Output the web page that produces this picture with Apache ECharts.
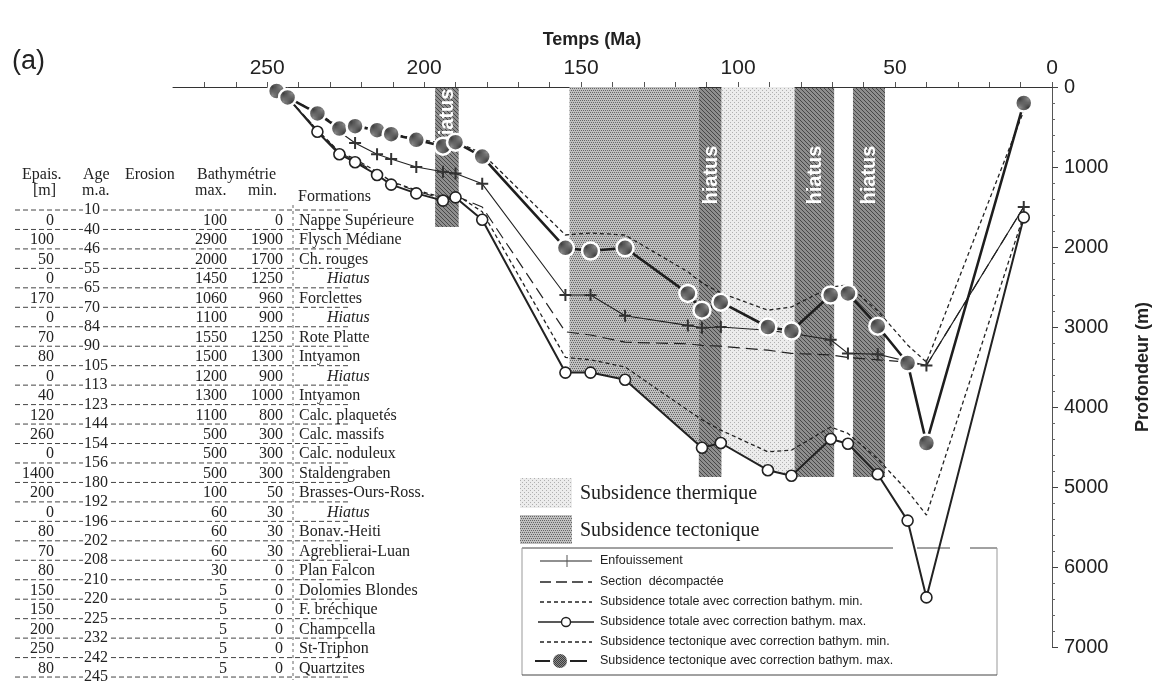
<!DOCTYPE html>
<html><head><meta charset="utf-8">
<script src="https://cdn.jsdelivr.net/npm/echarts/dist/echarts.min.js"></script>
<style>html,body{margin:0;padding:0;background:#fff}#c{width:1160px;height:686px}</style>
</head><body><div id="c"></div>
<script>
// ---------- DATA ----------
// ages (Ma) of the plotted points, as placed on the figure
const ages = [247, 243.5, 234, 227, 222, 215, 210.5, 202.5, 194, 190, 181.5, 155, 147, 136, 116, 111.5, 105.5, 90.5, 83, 70.5, 65, 55.5, 46, 40, 9];
const enfouissement      = [null, null, null, 560, 700, 840, 900, 1000, 1060, 1080, 1210, 2600, 2600, 2860, 2980, 3010, 3000, 3040, 3080, 3160, 3330, 3340, 3430, 3480, 1500];
const sectionDecompactee = [50, 130, 540, 820, 920, 1080, 1190, 1300, 1400, 1360, 1500, 3060, 3100, 3190, 3210, 3230, 3240, 3290, 3330, 3350, 3380, 3410, 3440, 3480, 1500];
const totaleMin          = [50, 130, 540, 810, 900, 1060, 1180, 1290, 1380, 1340, 1560, 3380, 3410, 3500, 4040, 4160, 4290, 4560, 4540, 4250, 4330, 4650, 5050, 5350, 1600];
const totaleMax          = [50, 130, 560, 840, 940, 1100, 1220, 1330, 1420, 1380, 1660, 3570, 3570, 3660, null, 4510, 4450, 4790, 4860, 4400, 4460, 4840, 5420, 6380, 1630];
const tectoniqueMin      = [50, 130, 320, 500, 480, 530, 580, 650, 700, 680, 830, 1850, 1825, 1850, 2310, 2450, 2575, 2790, 2750, 2500, 2475, 2800, 3225, 3440, 300];
const tectoniqueMax      = [50, 130, 330, 520, 490, 540, 590, 660, 740, 690, 870, 2010, 2050, 2010, 2580, 2790, 2690, 3000, 3050, 2600, 2580, 2990, 3450, 4450, 200];

// phases (Ma)
const hiatusFrom  = [196.5, 112.5, 82, 63.4];
const hiatusTo    = [189, 105.3, 69.4, 53.2];
const hiatusDepth = [1750, 4875, 4875, 4875];
const tectoPhase  = [153.7, 112.5];
const thermPhase  = [105.3, 82];

// stratigraphic table
const tableAges = [10, 40, 46, 55, 65, 70, 84, 90, 105, 113, 123, 144, 154, 156, 180, 192, 196, 202, 208, 210, 220, 225, 232, 242, 245];
const tableEpais = [0, 100, 50, 0, 170, 0, 70, 80, 0, 40, 120, 260, 0, 1400, 200, 0, 80, 70, 80, 150, 150, 200, 250, 80];
const tableBathyMax = [100, 2900, 2000, 1450, 1060, 1100, 1550, 1500, 1200, 1300, 1100, 500, 500, 500, 100, 60, 60, 60, 30, 5, 5, 5, 5, 5];
const tableBathyMin = [0, 1900, 1700, 1250, 960, 900, 1250, 1300, 900, 1000, 800, 300, 300, 300, 50, 30, 30, 30, 0, 0, 0, 0, 0, 0];
const tableFormations = ['Nappe Supérieure', 'Flysch Médiane', 'Ch. rouges', 'Hiatus', 'Forclettes', 'Hiatus', 'Rote Platte', 'Intyamon', 'Hiatus', 'Intyamon', 'Calc. plaquetés', 'Calc. massifs', 'Calc. noduleux', 'Staldengraben', 'Brasses-Ours-Ross.', 'Hiatus', 'Bonav.-Heiti', 'Agreblierai-Luan', 'Plan Falcon', 'Dolomies Blondes', 'F. bréchique', 'Champcella', 'St-Triphon', 'Quartzites'];

const legendLabels = ['Enfouissement', 'Section  décompactée', 'Subsidence totale avec correction bathym. min.', 'Subsidence totale avec correction bathym. max.', 'Subsidence tectonique avec correction bathym. min.', 'Subsidence tectonique avec correction bathym. max.'];

// ---------- PATTERNS ----------
function pattern(bg, fg, pts, size) {
  const c = document.createElement('canvas'); c.width = c.height = size;
  const g = c.getContext('2d'); g.fillStyle = bg; g.fillRect(0, 0, size, size);
  g.fillStyle = fg; pts.forEach(p => g.fillRect(p[0], p[1], 1, 1));
  return { image: c, repeat: 'repeat' };
}
const tectoPat = pattern('#c0c0c0', '#666666', [[0,0],[2,0],[1,2],[3,2]], 4);
const thermPat = pattern('#ececec', '#b0b0b0', [[0,0],[2,2]], 4);
const hiatusPat = pattern('#8e8e8e', '#474747', [[0,0],[1,1],[2,2],[3,3]], 4);
const markPat = pattern('#8a8a8a', '#3e3e3e', [[0,0],[2,0],[1,1],[3,1],[0,2],[2,2],[1,3],[3,3]], 4);

function pairs(v) { return ages.map((a, i) => v[i] == null ? null : [a, v[i]]).filter(p => p); }
const totMaxPts = pairs(totaleMax);
function depthAt(pts, t) {
  for (let i = 0; i < pts.length - 1; i++) {
    const a = pts[i], b = pts[i + 1];
    if (t <= a[0] && t >= b[0]) { const f = (a[0] - t) / (a[0] - b[0]); return a[1] + f * (b[1] - a[1]); }
  }
  return pts[pts.length - 1][1];
}

// ---------- GRAPHICS (table, titles, legend) ----------
const SERIF = '"Liberation Serif", "Times New Roman", serif';
const SANS = '"Liberation Sans", Arial, sans-serif';
const g = [];
function txt(x, y, s, opt) {
  g.push({ type: 'text', x: x, y: y, silent: true, style: Object.assign({ text: s, fill: '#222', font: '16px ' + SERIF, textAlign: 'left', textVerticalAlign: 'middle', align: 'left', verticalAlign: 'middle' }, opt || {}) });
}
function line(x1, y1, x2, y2, st) {
  g.push({ type: 'line', silent: true, shape: { x1: x1, y1: y1, x2: x2, y2: y2 }, style: Object.assign({ stroke: '#333', lineWidth: 1 }, st || {}) });
}
// titles
txt(592, 40, 'Temps (Ma)', { font: 'bold 18px ' + SANS, textAlign: 'center', align: 'center' });
txt(12, 62, '(a)', { font: '27px ' + SANS });
// table header
txt(22, 175, 'Epais.'); txt(33, 191, '[m]');
txt(83, 175, 'Age'); txt(82, 191, 'm.a.');
txt(125, 175, 'Erosion');
txt(197, 175, 'Bathymétrie');
txt(195, 191, 'max.'); txt(248, 191, 'min.');
txt(298, 197, 'Formations');
const row0 = 210, pitch = 19.46;
line(293, 205, 293, 680, { lineDash: [3, 3], stroke: '#666' });
tableAges.forEach((a, i) => {
  const y = row0 + i * pitch;
  line(15, y, 350, y, { lineDash: [5, 3], stroke: '#444' });
  txt(83, y, String(a), { backgroundColor: '#fff', padding: [0, 1, 0, 1] });
});
tableFormations.forEach((f, i) => {
  const y = row0 + (i + 0.5) * pitch + 1;
  txt(54, y, String(tableEpais[i]), { textAlign: 'right', align: 'right' });
  txt(227, y, String(tableBathyMax[i]), { textAlign: 'right', align: 'right' });
  txt(283, y, String(tableBathyMin[i]), { textAlign: 'right', align: 'right' });
  if (f === 'Hiatus') txt(327, y, f, { font: 'italic 16px ' + SERIF });
  else txt(299, y, f);
});
// phase legend
g.push({ type: 'rect', silent: true, shape: { x: 520, y: 478, width: 52, height: 30 }, style: { fill: thermPat } });
g.push({ type: 'rect', silent: true, shape: { x: 520, y: 515, width: 52, height: 29 }, style: { fill: tectoPat } });
txt(580, 494, 'Subsidence thermique', { font: '20px ' + SERIF });
txt(580, 531, 'Subsidence tectonique', { font: '20px ' + SERIF });
// legend box
line(522, 548, 893, 548, { stroke: '#444' }); line(917, 548, 950, 548, { stroke: '#444' }); line(970, 548, 997, 548, { stroke: '#444' });
line(522, 548, 522, 675, { stroke: '#999' }); line(997, 548, 997, 675, { stroke: '#999' }); line(522, 675, 997, 675, { stroke: '#444' });
const ly = [561, 582, 602, 622, 642, 661];
legendLabels.forEach((s, i) => txt(600, ly[i], s, { font: '12.5px ' + SANS }));
line(540, ly[0], 592, ly[0], { stroke: '#222', lineWidth: 1.2 }); line(567, ly[0] - 6, 567, ly[0] + 6, { stroke: '#555', lineWidth: 1 });
line(540, ly[1], 592, ly[1], { stroke: '#222', lineWidth: 1.4, lineDash: [11, 5] });
line(540, ly[2], 592, ly[2], { stroke: '#222', lineWidth: 1.3, lineDash: [4, 3] });
line(538, ly[3], 594, ly[3], { stroke: '#222', lineWidth: 1.6 });
g.push({ type: 'circle', silent: true, shape: { cx: 566, cy: ly[3], r: 4.5 }, style: { fill: '#fff', stroke: '#222', lineWidth: 1.4 } });
line(540, ly[4], 592, ly[4], { stroke: '#222', lineWidth: 1.3, lineDash: [4, 3] });
line(535, ly[5], 550, ly[5], { stroke: '#222', lineWidth: 2 }); line(570, ly[5], 587, ly[5], { stroke: '#222', lineWidth: 2 });
g.push({ type: 'circle', silent: true, shape: { cx: 560, cy: ly[5], r: 7 }, style: { fill: markPat } });

// ---------- CHART ----------
const chart = echarts.init(document.getElementById('c'), null, { renderer: 'canvas' });
const plus = 'path://M5,0h2v5h5v2h-5v5h-2v-5h-5v-2h5z';
chart.setOption({
  animation: false,
  backgroundColor: '#fff',
  grid: { left: 173, right: 104, top: 87, bottom: 39, containLabel: false },
  xAxis: {
    type: 'value', min: 0, max: 280, interval: 10, inverse: true, position: 'top',
    axisLine: { lineStyle: { color: '#333', width: 1 } },
    axisTick: { show: true, length: 5, lineStyle: { color: '#555' } },
    axisLabel: { fontSize: 21, color: '#222', fontFamily: SANS, margin: 8, showMaxLabel: false,
      formatter: v => (v % 50 === 0 ? String(v) : '') },
    splitLine: { show: false }
  },
  yAxis: {
    type: 'value', min: 0, max: 7000, interval: 1000, inverse: true, position: 'right',
    axisLine: { show: true, lineStyle: { color: '#555', width: 1 } },
    axisTick: { show: true, length: 6, lineStyle: { color: '#444' } },
    minorTick: { show: true, splitNumber: 5, length: 3, lineStyle: { color: '#666' } },
    axisLabel: { fontSize: 20, color: '#222', fontFamily: SANS, margin: 12, formatter: v => String(v) },
    splitLine: { show: false },
    name: 'Profondeur (m)', nameLocation: 'middle', nameRotate: 90, nameGap: 82,
    nameTextStyle: { fontSize: 18, fontWeight: 'bold', color: '#222', fontFamily: SANS }
  },
  graphic: g,
  series: [
    { type: 'custom', name: 'phases', z: 1, silent: true,
      data: [[tectoPhase[0], tectoPhase[1], 0], [thermPhase[0], thermPhase[1], 0]],
      encode: { x: [0, 1], y: 2 },
      renderItem: function (params, api) {
        const t0 = api.value(0), t1 = api.value(1);
        const pts = [api.coord([t0, 0]), api.coord([t1, 0]), api.coord([t1, depthAt(totMaxPts, t1)])];
        totMaxPts.filter(p => p[0] < t0 && p[0] > t1).sort((a, b) => a[0] - b[0]).forEach(p => pts.push(api.coord(p)));
        pts.push(api.coord([t0, depthAt(totMaxPts, t0)]));
        return { type: 'polygon', shape: { points: pts }, style: { fill: params.dataIndex === 0 ? tectoPat : thermPat } };
      }
    },
    { type: 'custom', name: 'hiatus', z: 2, silent: true,
      data: hiatusFrom.map((f, i) => [f, hiatusTo[i], hiatusDepth[i]]),
      encode: { x: [0, 1], y: 2 },
      renderItem: function (params, api) {
        const a = api.coord([api.value(0), 0]), b = api.coord([api.value(1), api.value(2)]);
        const cx = (a[0] + b[0]) / 2;
        const cy = params.dataIndex === 0 ? a[1] + 31 : a[1] + 88;
        return { type: 'group', children: [
          { type: 'rect', shape: { x: a[0], y: a[1] + 1, width: b[0] - a[0], height: b[1] - a[1] - 1 }, style: { fill: hiatusPat } },
          { type: 'text', x: cx + 1, y: cy, rotation: Math.PI / 2,
            style: { text: 'hiatus', fill: '#fff', font: 'bold 20px ' + SANS, textAlign: 'center', textVerticalAlign: 'middle', align: 'center', verticalAlign: 'middle' } }
        ] };
      }
    },
    { type: 'line', name: legendLabels[2], z: 3, data: pairs(totaleMin), symbol: 'none', clip: false,
      lineStyle: { color: '#222', width: 1.3, type: [4, 3] } },
    { type: 'line', name: legendLabels[4], z: 3, data: pairs(tectoniqueMin), symbol: 'none', clip: false,
      lineStyle: { color: '#222', width: 1.3, type: [4, 3] } },
    { type: 'line', name: legendLabels[1], z: 3, data: pairs(sectionDecompactee), symbol: 'none', clip: false,
      lineStyle: { color: '#222', width: 1.2, type: [12, 6] } },
    { type: 'line', name: legendLabels[0], z: 4, data: pairs(enfouissement), symbol: plus, symbolSize: 12, clip: false,
      itemStyle: { color: '#333' }, lineStyle: { color: '#222', width: 1.1 } },
    { type: 'line', name: legendLabels[3], z: 5, data: pairs(totaleMax), symbol: 'circle', symbolSize: 11, clip: false,
      itemStyle: { color: '#fff', borderColor: '#222', borderWidth: 1.6 }, lineStyle: { color: '#222', width: 2 } },
    { type: 'line', name: legendLabels[5], z: 6, data: pairs(tectoniqueMax), symbol: 'circle', symbolSize: 17, clip: false,
      itemStyle: { color: markPat, borderColor: '#fff', borderWidth: 2.5 }, lineStyle: { color: '#1e1e1e', width: 2.6 } }
  ]
});
</script>
</body></html>
